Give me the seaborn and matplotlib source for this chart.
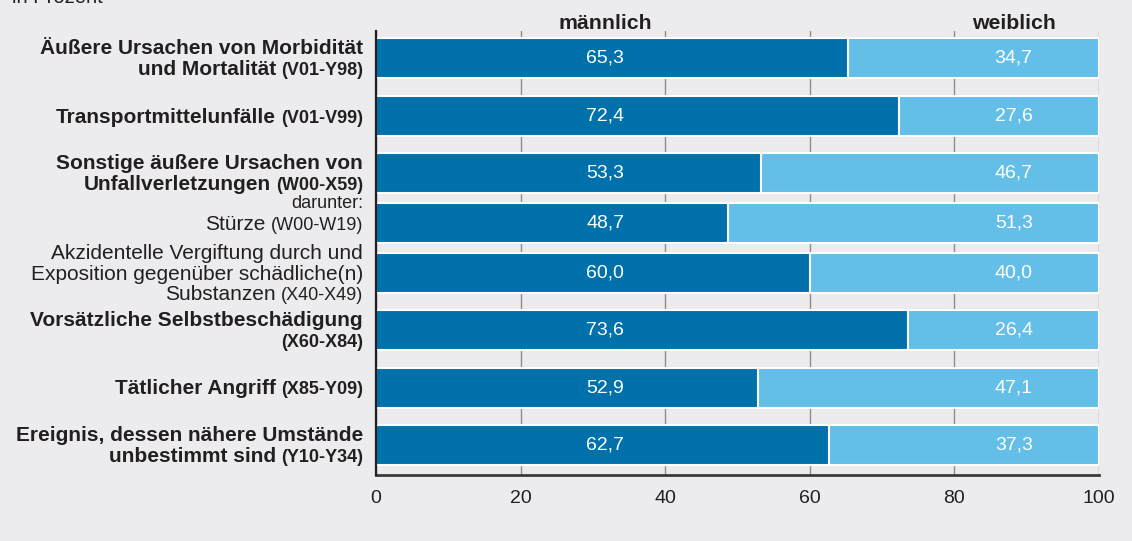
import matplotlib
matplotlib.use('Agg')
import matplotlib.pyplot as plt
import matplotlib.transforms as mtransforms
from matplotlib import font_manager
import pandas as pd
import seaborn as sns

# Daten (Anteile in Prozent)
categories = [
    [('Äußere Ursachen von Morbidität', ''), ('und Mortalität', '(V01-Y98)')],
    [('Transportmittelunfälle', '(V01-V99)')],
    [('Sonstige äußere Ursachen von', ''), ('Unfallverletzungen', '(W00-X59)')],
    [('Stürze', '(W00-W19)')],
    [('Akzidentelle Vergiftung durch und', ''),
     ('Exposition gegenüber schädliche(n)', ''),
     ('Substanzen', '(X40-X49)')],
    [('Vorsätzliche Selbstbeschädigung', ''), ('', '(X60-X84)')],
    [('Tätlicher Angriff', '(X85-Y09)')],
    [('Ereignis, dessen nähere Umstände', ''), ('unbestimmt sind', '(Y10-Y34)')],
]
category_bold = [True, True, True, False, False, True, True, True]
maennlich = [65.3, 72.4, 53.3, 48.7, 60.0, 73.6, 52.9, 62.7]
weiblich = [34.7, 27.6, 46.7, 51.3, 40.0, 26.4, 47.1, 37.3]
x_ticks = [0, 20, 40, 60, 80, 100]

# Layout: Zeilenpositionen (Unterpunkte "darunter" stehen enger)
row_pos = [1.16, 2.32, 3.46, 4.46, 5.46, 6.60, 7.76, 8.90]

dark_blue = '#0071AA'
light_blue = '#64BFE8'
bg = '#ECECEE'
txt = '#231F20'

avail = {f.name for f in font_manager.fontManager.ttflist}
base_font = 'Liberation Sans' if 'Liberation Sans' in avail else 'DejaVu Sans'
narrow_font = 'Liberation Sans Narrow' if 'Liberation Sans Narrow' in avail else base_font

sns.set_theme(style='white')
plt.rcParams['font.family'] = [base_font, 'DejaVu Sans']
plt.rcParams['text.color'] = txt

fig = plt.figure(figsize=(11.32, 5.41), dpi=100, facecolor=bg)
ax = fig.add_axes([376 / 1132, 1 - 475 / 541, 723 / 1132, 444 / 541])
ax.set_facecolor(bg)

df = pd.DataFrame({
    'pos': row_pos,
    'maennlich': maennlich,
    'gesamt': [m + w for m, w in zip(maennlich, weiblich)],
})

sns.barplot(data=df, x='gesamt', y='pos', orient='y', native_scale=True,
            color=light_blue, saturation=1, width=0.8,
            edgecolor='white', linewidth=1.5, ax=ax)
sns.barplot(data=df, x='maennlich', y='pos', orient='y', native_scale=True,
            color=dark_blue, saturation=1, width=0.8,
            edgecolor='white', linewidth=1.5, ax=ax)
for p in ax.patches:
    p.set_zorder(3)

ax.set_xlim(0, 100)
ax.set_ylim(475 / 50, 31 / 50)
ax.set_xlabel('')
ax.set_ylabel('')
ax.set_yticks([])
ax.set_xticks(x_ticks)
ax.set_xticklabels([str(t) for t in x_ticks], fontfamily=narrow_font,
                   fontsize=14, color=txt)
ax.tick_params(axis='x', which='major', length=0, pad=11)
ax.set_xticks([0, 100], minor=True)
ax.tick_params(axis='x', which='minor', length=6, width=1.3,
               color='#333333', direction='out')

ax.grid(axis='x', color='#8c8c8c', linewidth=1)
ax.grid(axis='y', visible=False)
ax.set_axisbelow(True)
for side in ['top', 'right']:
    ax.spines[side].set_visible(False)
ax.spines['left'].set_color(txt)
ax.spines['left'].set_linewidth(1.6)
ax.spines['bottom'].set_color('#3a3a3a')
ax.spines['bottom'].set_linewidth(2)
ax.spines['left'].set_zorder(4)

# Werte in den Balken
m_col, w_col = 31.7, 88.2
for y, m, w in zip(row_pos, maennlich, weiblich):
    ax.text(m_col, y, f'{m:.1f}'.replace('.', ','), ha='center', va='center',
            color='white', fontsize=14, zorder=5)
    ax.text(w_col, y, f'{w:.1f}'.replace('.', ','), ha='center', va='center',
            color='white', fontsize=14, zorder=5)

# Spaltenköpfe
head_trans = mtransforms.blended_transform_factory(ax.transData, ax.transAxes)
ax.text(m_col, 1.004, 'männlich', transform=head_trans, ha='center',
        va='baseline', fontsize=15.3, fontweight='bold')
ax.text(w_col, 1.004, 'weiblich', transform=head_trans, ha='center',
        va='baseline', fontsize=15.3, fontweight='bold')

# Beschriftung der Zeilen (Haupttext + kleinerer Code in Klammern)
fig.canvas.draw()
renderer = fig.canvas.get_renderer()
ax_w = ax.get_window_extent(renderer).width
lab_trans = mtransforms.blended_transform_factory(ax.transAxes, ax.transData)
x_right = -13 / ax_w
line_h = 21

for lines, y, bold in zip(categories, row_pos, category_bold):
    weight = 'bold' if bold else 'normal'
    n = len(lines)
    for i, (main, code) in enumerate(lines):
        yb = y + (6.5 + (i - (n - 1) / 2) * line_h) / 50
        x = x_right
        if code:
            t = ax.text(x, yb, code, transform=lab_trans, ha='right',
                        va='baseline', fontsize=13, fontweight=weight,
                        clip_on=False)
            x -= (t.get_window_extent(renderer).width + 5) / ax_w
        if main:
            ax.text(x, yb, main, transform=lab_trans, ha='right',
                    va='baseline', fontsize=15, fontweight=weight,
                    clip_on=False)

ax.text(x_right, row_pos[3] - 15.5 / 50, 'darunter:', transform=lab_trans,
        ha='right', va='baseline', fontsize=13, clip_on=False)

fig.text(12 / 1132, 1 - 3 / 541, 'in Prozent', ha='left', va='baseline',
         fontsize=14.5)

fig.savefig('out.png', dpi=100, facecolor=bg)
